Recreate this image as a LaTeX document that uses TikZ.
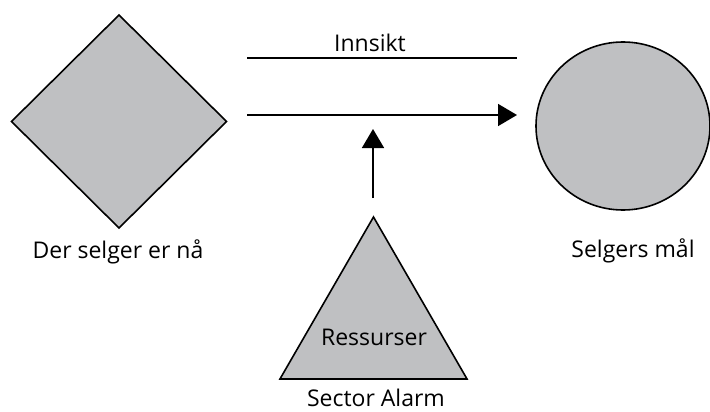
\documentclass[tikz,border=0pt]{standalone}
\usepackage{fontspec}
\setmainfont{Open Sans}
\usetikzlibrary{shapes.geometric,arrows.meta}
\definecolor{shapegray}{RGB}{191,192,194}
\tikzset{
  figure/.style={draw=black,fill=shapegray,line width=1.6pt,inner sep=0pt,outer sep=0pt},
  caption/.style={font=\fontsize{23}{26}\selectfont,anchor=base,inner sep=0pt},
  connector/.style={line width=1.6pt},
  pointer/.style={connector,-{Triangle[length=19pt,width=22pt]}}
}
\begin{document}
\begin{tikzpicture}[x=1pt,y=-1pt]
  \useasboundingbox (0,0) rectangle (710,412);

  % current position
  \node[figure,diamond,aspect=1,minimum width=215pt,minimum height=213pt] (now) at (119,121.5) {};
  \node[caption] (nowtext) at (118,258) {Der selger er nå};

  % goal
  \node[figure,ellipse,minimum width=174pt,minimum height=168pt] (goal) at (623,126) {};
  \node[caption] (goaltext) at (633,257) {Selgers mål};

  % resources
  \node[figure,regular polygon,regular polygon sides=3,minimum size=216pt] (res) at (373.5,325) {};
  \node[caption] (restext) at (374,345) {Ressurser};
  \node[caption] (company) at (376,406) {Sector Alarm};

  % insight line and progress arrow
  \coordinate (insA) at (247,58);
  \coordinate (insB) at (517,58);
  \draw[connector] (insA) -- (insB);
  \node[caption] (insight) at (370,52) {Innsikt};

  \coordinate (progA) at (247,115);
  \coordinate (progB) at (517,115);
  \draw[pointer] (progA) -- (progB);

  \coordinate (pushA) at (373,198);
  \coordinate (pushB) at (373,129);
  \draw[pointer] (pushA) -- (pushB);
\end{tikzpicture}
\end{document}
